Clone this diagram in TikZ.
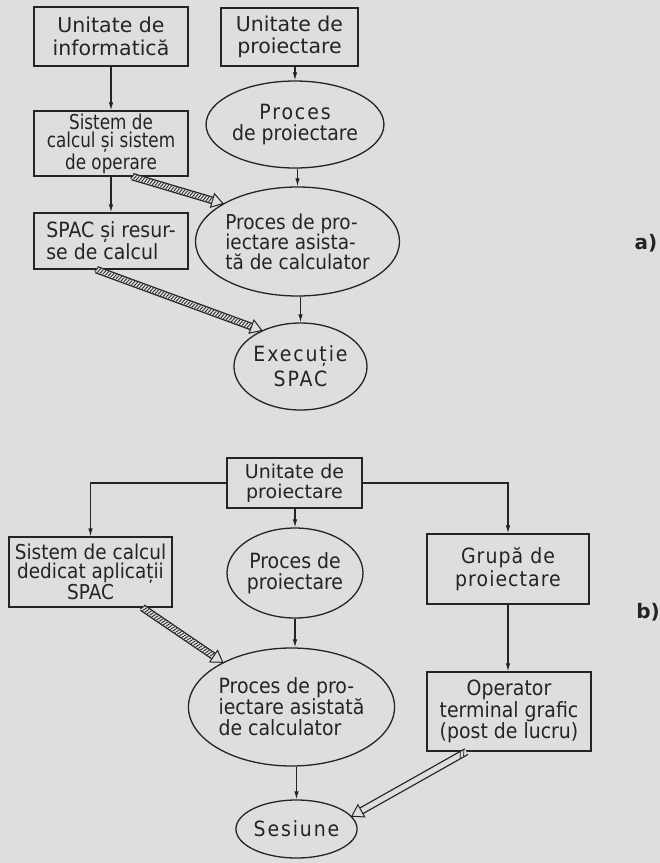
\documentclass[tikz,border=0pt]{standalone}
\usepackage{fontspec}
\setmainfont{DejaVu Sans}
\newfontfamily\plainface{DejaVu Sans}
\newfontfamily\condface[FakeStretch=0.9]{DejaVu Sans}
\newfontfamily\tightface[FakeStretch=0.82]{DejaVu Sans}
\newfontfamily\airyface[FakeStretch=0.9,LetterSpace=9]{DejaVu Sans}
\newfontfamily\lightairyface[FakeStretch=0.9,LetterSpace=5]{DejaVu Sans}
\usetikzlibrary{shapes.geometric,arrows.meta,calc,decorations.markings}

\definecolor{paper}{RGB}{222,222,220}
\definecolor{ink}{RGB}{36,36,36}

\newcommand\sz[2]{\fontsize{#1}{#2}\selectfont}

\tikzset{
  box/.style={draw=ink, line width=1.3pt, rectangle, inner sep=0pt,
              align=center, text=ink, font=\condface\sz{21}{21}},
  oval/.style={draw=ink, line width=1.3pt, ellipse, inner sep=0pt,
               align=center, text=ink, font=\condface\sz{21}{21}},
  arr/.style={draw=ink, line width=1.1pt, -{Latex[length=8pt,width=4.5pt]}},
  tag/.style={text=ink, font=\plainface\sz{20}{22}\bfseries, inner sep=0pt},
  hatching/.style={decorate, decoration={markings,
      mark=between positions 0 and 1 step 2.8pt with
      {\draw[ink, line width=0.8pt] (-1pt,-2.4pt) -- (1pt,2.4pt);}}},
  fewhatch/.style={decorate, decoration={markings,
      mark=at position 3pt with {\draw[ink, line width=0.8pt] (-1.5pt,-2.4pt) -- (1.5pt,2.4pt);},
      mark=at position 7pt with {\draw[ink, line width=0.8pt] (-1.5pt,-2.4pt) -- (1.5pt,2.4pt);}}},
}

% wide "transport" arrow: double-outlined band, filled with a pattern, hollow head
\newcommand\bandarrow[3]{%
  \coordinate (hs) at #1;
  \coordinate (ht) at #2;
  \coordinate (hb) at ($(ht)!11pt!(hs)$);
  \draw[ink, line width=7.6pt] (hs) -- (hb);
  \draw[paper, line width=5pt] (hs) -- (hb);
  \path[#3] (hs) -- (hb);
  \draw[ink, line width=1pt, fill=paper, line join=miter]
    (ht) -- ($(hb)!7pt!90:(ht)$) -- ($(hb)!7pt!-90:(ht)$) -- cycle;
}

\begin{document}
\begin{tikzpicture}[x=1pt, y=-1pt]
  \path[fill=paper] (0,0) rectangle (660,863);

  % ---------- a) ----------
  \node[box, minimum width=154pt, minimum height=59pt, font=\plainface\sz{20.5}{22.3}] (a1) at (111,36.5)
    {Unitate de\\informatică};
  \node[box, minimum width=137pt, minimum height=58pt, font=\plainface\sz{20.5}{22.3}] (a2) at (289.5,37)
    {Unitate de\\proiectare};
  \node[oval, minimum width=136pt, minimum height=87pt, font=\condface\sz{21}{21.7}] (p1) at (295,124.5)
    {{\airyface Proces}\\de proiectare};
  \node[box, minimum width=154pt, minimum height=65pt, font=\tightface\sz{20.5}{18.5}] (sys) at (111,143.5)
    {Sistem de\\calcul și sistem\\de operare};
  \node[box, minimum width=154pt, minimum height=56pt, align=left, font=\condface\sz{21}{19}] (spac) at (111,241)
    {SPAC și resur-\\se de calcul};
  \node[oval, minimum width=167pt, minimum height=109pt, align=left, font=\condface\sz{20.5}{20}] (cad) at (297.5,241.5)
    {Proces de pro-\\iectare asista-\\tă de calculator};
  \node[oval, minimum width=133pt, minimum height=87pt, font=\airyface\sz{21}{25}] (exec) at (300.5,366.5)
    {Execuție\\SPAC};

  \draw[arr] (a1.south) -- (sys.north);
  \draw[arr] (sys.south) -- (spac.north);
  \draw[arr] (p1.north |- a2.south) -- (p1.north);
  \draw[arr] (cad.north |- p1.south) -- (cad.north);
  \draw[arr] (exec.north |- cad.south) -- (exec.north);

  \bandarrow{($(sys.south west)+(99,0)$)}{(cad.153)}{hatching}
  \bandarrow{($(spac.south west)+(63,0)$)}{(exec.137)}{hatching}

  \node[tag] (la) at (646,243) {a)};

  % ---------- b) ----------
  \node[box, minimum width=135pt, minimum height=50pt, font=\plainface\sz{19}{19.5}] (ub) at (294.5,483)
    {Unitate de\\proiectare};
  \node[box, minimum width=163pt, minimum height=70pt, font=\condface\sz{20.5}{19.3}] (sd) at (90.5,572)
    {Sistem de calcul\\dedicat aplicații\\SPAC};
  \node[oval, minimum width=134pt, minimum height=90pt] (pb) at (295,573)
    {Proces de\\proiectare};
  \node[box, minimum width=162pt, minimum height=70pt, font=\lightairyface\sz{21}{23}] (gp) at (508,569)
    {Grupă de\\proiectare};
  \node[oval, minimum width=177pt, minimum height=118pt, align=left] (cadb) at (291.5,707)
    {Proces de pro-\\iectare asistată\\de calculator};
  \node[box, minimum width=164pt, minimum height=79pt, font=\condface\sz{21}{20}] (op) at (509,711.5)
    {Operator\\terminal grafic\\(post de lucru)};
  \node[oval, minimum width=107pt, minimum height=58pt, font=\airyface\sz{21}{21}] (ses) at (296.5,829)
    {Sesiune};

  \draw[arr] (ub.west) -| (sd.north);
  \draw[arr] (ub.east) -| (gp.north);
  \draw[arr] (pb.north |- ub.south) -- (pb.north);
  \draw[arr] (pb.south) -- (pb.south |- cadb.north);
  \draw[arr] (gp.south) -- (op.north -| gp.south);
  \draw[arr] (ses.north |- cadb.south) -- (ses.north);

  \bandarrow{($(sd.south west)+(134,0)$)}{(cadb.147)}{hatching}
  \bandarrow{($(op.south west)+(40,0)$)}{(ses.13)}{fewhatch}

  \node[tag] (lb) at (648,612) {b)};
\end{tikzpicture}
\end{document}
